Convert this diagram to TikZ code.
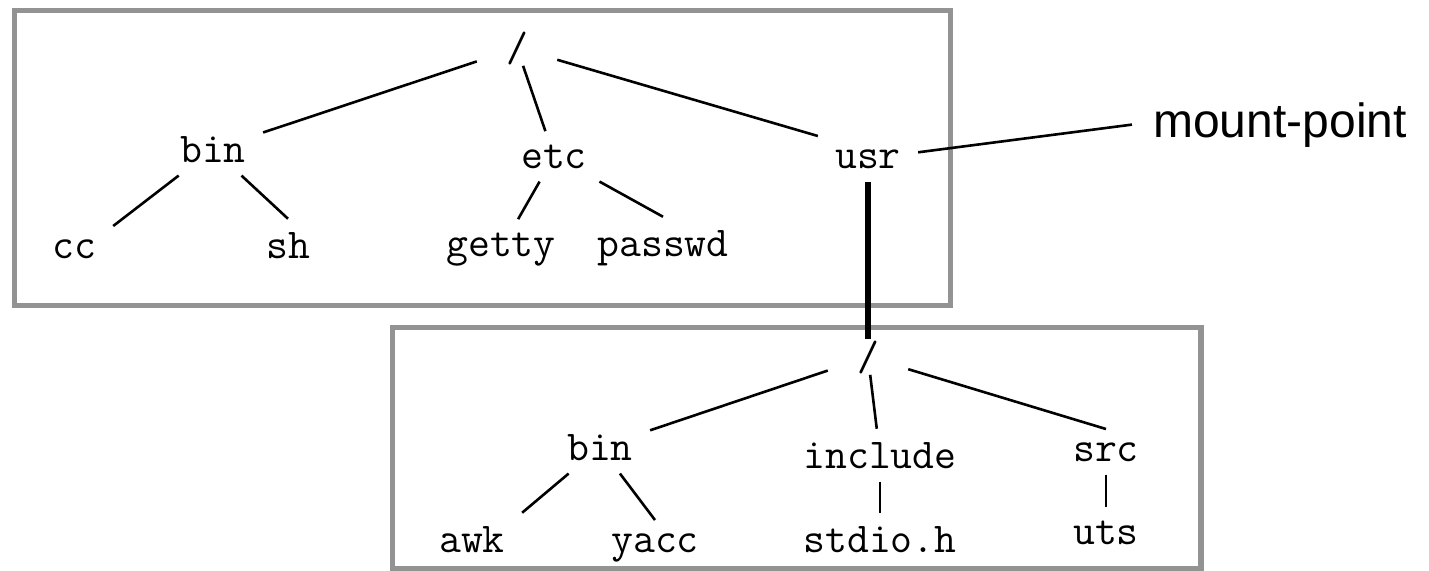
\documentclass[tikz,border=0pt]{standalone}
\usepackage{fontspec}
\newfontfamily\notefont{Liberation Sans}
\usetikzlibrary{fit}

\begin{document}
\begin{tikzpicture}[x=0.5pt, y=-0.5pt, line width=1.3pt,
    dir/.style = {font=\ttfamily\fontsize{21.25}{25}\selectfont, anchor=base, inner xsep=8pt, inner ysep=6pt},
    root/.style = {dir, inner xsep=14pt, inner ysep=0pt},
    box/.style = {draw=gray!85, line width=2.6pt, inner sep=0pt},
    note/.style = {font=\notefont\fontsize{24}{28}\selectfont, anchor=base, inner xsep=10pt}]
    \useasboundingbox (0,0) rectangle (1429,570);
    % the two frames
    \coordinate (a1) at (14.5,10.5);
    \coordinate (a2) at (950.5,305.5);
    \coordinate (b1) at (392.5,327.5);
    \coordinate (b2) at (1201,568.5);
    \node[box, fit=(a1)(a2)] (upper) {};
    \node[box, fit=(b1)(b2)] (lower) {};
    % root file system
    \node[root] (root) at (517,61) {/};
    \node[dir] (bin) at (213,162) {bin};
    \node[dir] (etc) at (554,168) {etc};
    \node[dir] (usr) at (868,168) {usr};
    \node[dir] (cc) at (74,258) {cc};
    \node[dir] (sh) at (288,258) {sh};
    \node[dir] (getty) at (501,256) {getty};
    \node[dir] (passwd) at (663,256) {passwd};
    \path (root) edge (bin);
    \path (root) edge (etc);
    \path (root) edge (usr.north west);
    \path (bin) edge (cc.north east);
    \path (bin) edge (sh.north);
    \path (etc) edge (getty);
    \path (etc) edge (passwd.north);
    % mounted file system
    \node[root] (mroot) at (868,370) {/};
    \node[dir] (mbin) at (600,460) {bin};
    \node[dir] (include) at (880,468) {include};
    \node[dir] (src) at (1106,461) {src};
    \node[dir] (awk) at (472,552) {awk};
    \node[dir] (yacc) at (655,552) {yacc};
    \node[dir] (stdio) at (880,552) {stdio.h};
    \node[dir] (uts) at (1106,544) {uts};
    \path (mroot) edge (mbin);
    \path (mroot) edge (include);
    \path (mroot) edge (src.north);
    \path (mbin) edge (awk.north east);
    \path (mbin) edge (yacc.north);
    \path (include) edge (stdio);
    \path (src) edge (uts);
    % mount point
    \path[line width=2.6pt] (usr) edge (mroot);
    \node[note] (mount) at (1280,137) {mount-point};
    \path (usr) edge (mount.west);
\end{tikzpicture}
\end{document}
